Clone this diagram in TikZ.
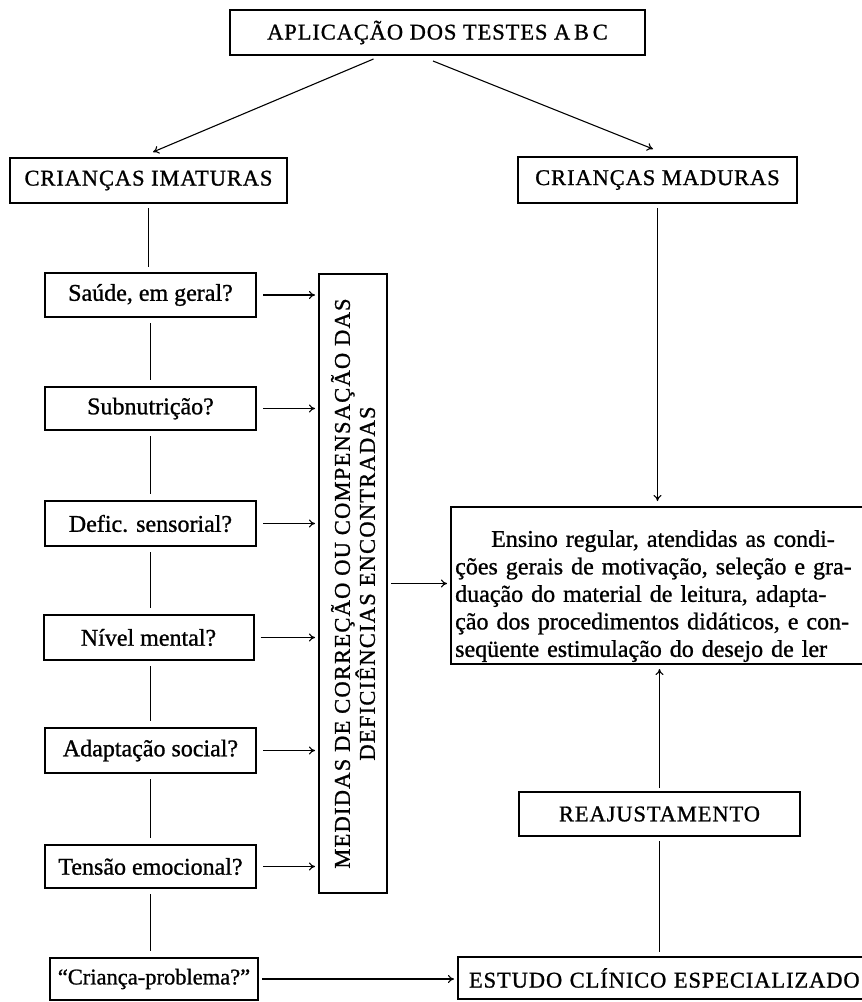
\documentclass[tikz,border=0pt]{standalone}
\usepackage{fontspec}
\setmainfont{Liberation Serif}
\newfontfamily\capsfont[LetterSpace=4,FakeBold=1]{Liberation Serif}
\newfontfamily\medfont[LetterSpace=5.5,FakeBold=1]{Liberation Serif}
\newfontfamily\lowfont[FakeBold=1]{Liberation Serif}
\usetikzlibrary{arrows.meta}
\begin{document}
\begin{tikzpicture}[x=1pt,y=-1pt,
  box/.style={draw, line width=2pt, inner sep=0pt, font=\fontsize{24}{28}\selectfont\lowfont},
  capbox/.style={box, font=\fontsize{22.5}{26}\selectfont\capsfont},
  conn/.style={line width=1.1pt},
  arr/.style={conn, -{To[length=6pt,width=8pt]}}
]
\useasboundingbox (0,0) rectangle (862,1002);

% top
\node[capbox, minimum width=415pt, minimum height=45pt] (top) at (437.5,32.5) {APLICAÇÃO DOS TESTES A\,B\,C};
\node[capbox, minimum width=277pt, minimum height=45pt] (imat) at (148.5,180.5) {CRIANÇAS IMATURAS};
\node[capbox, minimum width=279pt, minimum height=46pt] (madur) at (657.5,180) {CRIANÇAS MADURAS};

% left column
\node[box, minimum width=211pt, minimum height=44pt] (saude) at (150.5,295) {Saúde, em geral?};
\node[box, minimum width=211pt, minimum height=43pt] (subn) at (150.5,408.5) {Subnutrição?};
\node[box, minimum width=211pt, minimum height=45pt] (defic) at (150.5,523.5) {Defic. sensorial?};
\node[box, minimum width=210pt, minimum height=45pt] (nivel) at (148.5,637.5) {Nível mental?};
\node[box, minimum width=211pt, minimum height=45pt] (adapt) at (150.5,750.5) {Adaptação social?};
\node[box, minimum width=211pt, minimum height=43pt] (tensao) at (150.5,866.5) {Tensão emocional?};
\node[box, minimum width=208pt, minimum height=42pt, font=\fontsize{22.5}{26}\selectfont\lowfont] (crianca) at (154,979) {“Criança-problema?”};

% medidas
\node[box, minimum width=68pt, minimum height=619pt] (medidas) at (353,583.5) {};
\node[rotate=90, align=center, inner sep=0pt, font=\fontsize{22.5}{25}\selectfont\medfont] (medtxt) at (medidas.center)
  {MEDIDAS DE CORREÇÃO OU COMPENSAÇÃO DAS\\DEFICIÊNCIAS ENCONTRADAS};

% right side
\node[draw, line width=2pt, anchor=north west, minimum width=420pt, minimum height=157pt, inner sep=0pt] (ensino) at (450,506) {};
\node[anchor=north west, inner sep=0pt, text width=405pt, align=left,
      font=\fontsize{24}{27.5}\selectfont\lowfont] (ensinotxt) at (455,530)
  {\makebox[405pt][s]{\hspace*{36pt}Ensino regular, atendidas as condi-}\\
   \makebox[405pt][s]{ções gerais de motivação, seleção e gra-}\\
   \makebox[405pt][s]{duação do material de leitura, adapta-}\\
   \makebox[405pt][s]{ção dos procedimentos didáticos, e con-}\\
   \makebox[405pt][s]{seqüente estimulação do desejo de ler}};
\node[capbox, minimum width=281pt, minimum height=44pt] (reaj) at (659.5,814) {REAJUSTAMENTO};
\node[capbox, anchor=west, inner xsep=11pt, text width=392pt, minimum height=42pt, align=left] (estudo) at (457,978)
  {ESTUDO CLÍNICO ESPECIALIZADO};

% connectors
\draw[arr] ([xshift=-64pt,yshift=-3pt]top.south) -- ([xshift=4.5pt,yshift=5pt]imat.north);
\draw[arr] ([xshift=-4.5pt,yshift=-5pt]top.south) -- ([xshift=-4.5pt,yshift=7pt]madur.north);

\draw[conn, shorten <=4pt, shorten >=5pt] (imat.south) -- (imat.south |- saude.north);
\draw[conn, shorten <=5pt, shorten >=6pt] (saude.south) -- (subn.north);
\draw[conn, shorten <=5pt, shorten >=6pt] (subn.south) -- (defic.north);
\draw[conn, shorten <=5pt, shorten >=6pt] (defic.south) -- (defic.south |- nivel.north);
\draw[conn, shorten <=5pt, shorten >=6pt] (adapt.north |- nivel.south) -- (adapt.north);
\draw[conn, shorten <=5pt, shorten >=6pt] (adapt.south) -- (tensao.north);
\draw[conn, shorten <=5pt, shorten >=6pt] (tensao.south) -- (tensao.south |- crianca.north);

\foreach \n in {saude,subn,defic,nivel,adapt,tensao}
  \draw[arr, shorten <=6pt, shorten >=3pt] (\n.east) -- (\n.east -| medidas.west);

\draw[arr, shorten <=3pt, shorten >=3pt] (medidas.east) -- (medidas.east -| ensino.west);
\draw[arr, shorten <=4pt, shorten >=5pt] (madur.south) -- (madur.south |- ensino.north);
\draw[arr, shorten <=3pt, shorten >=4pt] (reaj.north) -- (reaj.north |- ensino.south);
\draw[conn, shorten <=4pt, shorten >=4pt] (reaj.south) -- (reaj.south |- estudo.north);
\draw[arr, shorten <=3pt, shorten >=3pt] (crianca.east) -- (crianca.east -| estudo.west);
\end{tikzpicture}
\end{document}
